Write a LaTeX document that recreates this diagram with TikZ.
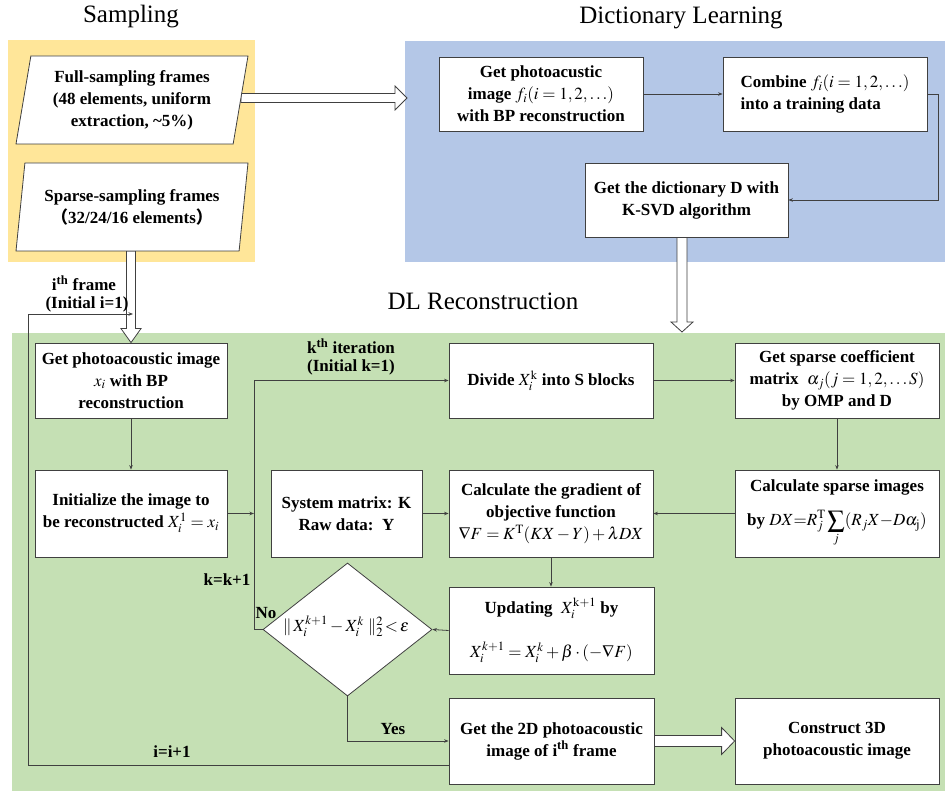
\documentclass[tikz,border=0pt]{standalone}
\usepackage{mathptmx}
\usepackage[no-math]{fontspec}
\setmainfont{Liberation Serif}
\newfontfamily\cjk{Noto Sans CJK SC}
\usetikzlibrary{arrows.meta,calc,shapes.geometric}
\definecolor{ylw}{HTML}{FFE699}
\definecolor{blu}{HTML}{B4C7E7}
\definecolor{grn}{HTML}{C5E0B4}
\definecolor{lin}{HTML}{404040}
\pgfdeclarelayer{bg}
\pgfdeclarelayer{mid}
\pgfsetlayers{bg,mid,main}
\newcommand\harrowR[5]{% start, tip, shaft half, head half, head length (pointing right)
  \draw[hollow] let \p1=(#1), \p2=(#2) in
    (\x1,\y2+#3) -- (\x2-#5,\y2+#3) -- (\x2-#5,\y2+#4) -- (\x2,\y2) --
    (\x2-#5,\y2-#4) -- (\x2-#5,\y2-#3) -- (\x1,\y2-#3) -- cycle;}
\newcommand\harrowD[5]{% start, tip, shaft half, head half, head length (pointing down)
  \draw[hollow] let \p1=(#1), \p2=(#2) in
    (\x2-#3,\y1) -- (\x2-#3,\y2+#5) -- (\x2-#4,\y2+#5) -- (\x2,\y2) --
    (\x2+#4,\y2+#5) -- (\x2+#3,\y2+#5) -- (\x2+#3,\y1) -- cycle;}
\begin{document}
\begin{tikzpicture}[x=1pt,y=-1pt,
  box/.style={draw=lin, line width=0.8pt, fill=white, align=center, inner sep=0pt,
    font=\bfseries\fontsize{17}{22}\selectfont},
  txt/.style={align=center, inner sep=0pt, font=\bfseries\fontsize{17}{22}\selectfont},
  ttl/.style={inner sep=0pt, font=\fontsize{25}{30}\selectfont},
  conn/.style={draw=lin, line width=0.8pt, -{Stealth[length=4.5pt,width=3.5pt]}},
  hollow/.style={draw=lin, line width=0.8pt, fill=white},
  para/.style={draw=lin, line width=0.8pt, fill=white, trapezium, trapezium left angle=76,
    trapezium right angle=104, trapezium stretches body=true, minimum width=232,
    minimum height=88, inner sep=0pt, align=center, font=\bfseries\fontsize{17}{22}\selectfont},
]
\useasboundingbox (0,0) rectangle (945,791);
\begin{pgfonlayer}{bg}
\fill[white] (0,0) rectangle (945,791);
\fill[ylw] (8,40) rectangle (255,262);
\fill[blu] (405,41) rectangle (945,262);
\fill[grn] (12,333) rectangle (945,791);
\end{pgfonlayer}

% titles
\node[ttl] (tS) at (131,17) {Sampling};
\node[ttl] (tD) at (681,18) {Dictionary Learning};
\node[ttl] (tR) at (483,301) {DL Reconstruction};

% sampling
\node[para] (s1) at (132,100) {Full-sampling frames\\(48 elements, uniform\\extraction, \textasciitilde5\%)};
\node[para] (s2) at (132,207) {Sparse-sampling frames\\{\cjk （}32/24/16 elements{\cjk ）}};

% dictionary learning
\node[box, minimum width=204, minimum height=74] (d1) at (541,94)
  {Get photoacustic\\image $f_i(i=1,2,\ldots)$\\with BP reconstruction};
\node[box, minimum width=204, minimum height=74, align=left] (d2) at (825,94)
  {Combine $f_i(i=1,2,\ldots)$\\into a training data};
\node[box, minimum width=203, minimum height=74] (d3) at (686.5,200)
  {Get the dictionary D with\\K-SVD algorithm};

% DL reconstruction
\node[box, minimum width=192, minimum height=75] (r1) at (131,380.5)
  {Get photoacoustic image\\$x_i$ with BP\\reconstruction};
\node[box, minimum width=192, minimum height=87] (r2) at (131,513.5)
  {Initialize the image to\\be reconstructed $X_i^1=x_i$};
\node[box, minimum width=151, minimum height=87] (r3) at (346.5,513.5)
  {System matrix: K\\Raw data:\ \ Y};
\node[box, minimum width=204, minimum height=75] (r4) at (551,380.5)
  {Divide $X_i^{\mathrm{k}}$ into S blocks};
\node[box, minimum width=204, minimum height=75] (r5) at (837,380.5)
  {Get sparse coefficient\\matrix\ \ $\alpha_j(j=1,2,\ldots S)$\\by OMP and D};
\node[box, minimum width=204, minimum height=87] (r6) at (837,513.5)
  {Calculate sparse images\\[12pt]by $\displaystyle DX{=}R_j^{\mathrm{T}}\sum_j(R_jX{-}D\alpha_{\mathrm{j}})$};
\node[box, minimum width=204, minimum height=87] (r7) at (551,513.5)
  {Calculate the gradient of\\objective function\\$\nabla F=K^{\mathrm{T}}(KX-Y)+\lambda DX$};
\node[box, minimum width=205, minimum height=87] (r8) at (551.5,630.5)
  {Updating\ \ $X_i^{\mathrm{k+1}}$ by\\[22pt]$X_i^{k+1}=X_i^k+\beta\cdot(-\nabla F)$};
\node[diamond, draw=lin, line width=0.8pt, fill=white, minimum width=169, minimum height=133,
  inner sep=0pt, aspect=1.27] (dia) at (347.5,629.5) {};
\node[inner sep=0pt, font=\fontsize{17}{20}\selectfont] (diat) at (346,626)
  {$\|\,X_i^{k+1}-X_i^k\;\|_2^2\,{<}\,\varepsilon$};
\node[box, minimum width=205, minimum height=86] (r9) at (551.5,741)
  {Get the 2D photoacoustic\\image of i\textsuperscript{th} frame};
\node[box, minimum width=204, minimum height=86] (r10) at (837,741)
  {Construct 3D\\photoacoustic image};

% labels
\node[txt] (l1) at (84,283) {i\textsuperscript{th} frame};
\node[txt] (l2) at (87,304) {(Initial i=1)};
\node[txt] (l3) at (351,346) {k\textsuperscript{th} iteration};
\node[txt] (l4) at (351,367) {(Initial k=1)};
\node[txt] (l5) at (227,580) {k=k+1};
\node[txt] (l6) at (266,613) {No};
\node[txt] (l7) at (393,729) {Yes};
\node[txt] (l8) at (172,752) {i=i+1};

% hollow arrows
\coordinate (a1t) at (407,98);
\coordinate (a2s) at (137.5,251);
\coordinate (a3s) at (682,237);
\coordinate (a3t) at (682,332);
\begin{pgfonlayer}{mid}
\harrowR{s1.east}{a1t}{4.5}{12}{12}
\harrowD{a2s}{r1.north}{4.5}{10}{14}
\harrowD{a3s}{a3t}{5}{11}{10}
\harrowR{r9.east}{r10.west}{5.5}{13.5}{13}
\end{pgfonlayer}

% connectors
\coordinate (kc) at (254,380.5);
\coordinate (fbl) at (28,765);
\coordinate (fbt) at (28,314);
\coordinate (a2l) at (133,314);
\draw[conn] (d1.east) -- (d2.west);
\draw[conn] (d2.east) -- ++(11,0) |- (d3.east);
\draw[conn] (r1.south) -- (r2.north);
\draw[conn] (r2.east) -- (r2.east -| kc);
\draw[conn] (dia.west) -- (dia.west -| kc) -- (kc) -- (r4.west);
\draw[conn] (r3.east) -- (r7.west);
\draw[conn] (r4.east) -- (r5.west);
\draw[conn] (r5.south) -- (r6.north);
\draw[conn] (r6.west) -- (r7.east);
\draw[conn] (r7.south) -- (r8.north -| r7.south);
\draw[conn] (r8.west) -- (dia.east);
\draw[conn] (dia.south) |- (r9.west);
\draw[conn] ($(r9.west)+(0,24)$) -- (fbl) -- (fbt) -- (a2l);
\end{tikzpicture}
\end{document}
